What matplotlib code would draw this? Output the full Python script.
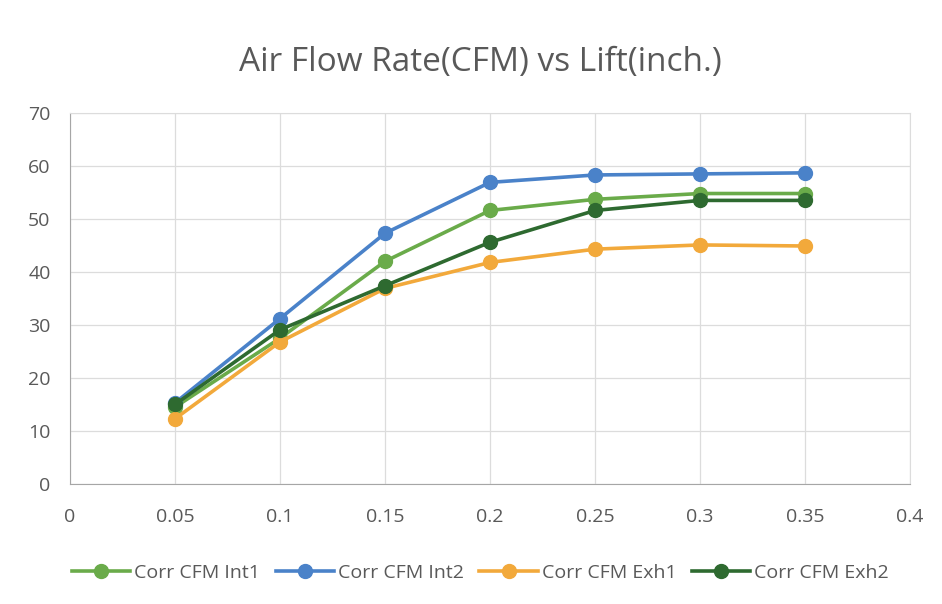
import matplotlib
matplotlib.use('Agg')
import matplotlib.pyplot as plt

plt.rcParams['font.family'] = ['Open Sans', 'DejaVu Sans']

# lift (inch.)
lift = [0.05, 0.1, 0.15, 0.2, 0.25, 0.3, 0.35]

# corrected air flow (CFM)
int1 = [14.5, 27.5, 42.0, 51.6, 53.7, 54.8, 54.8]
int2 = [15.3, 31.2, 47.3, 56.9, 58.3, 58.5, 58.7]
exh1 = [12.3, 26.8, 36.9, 41.8, 44.3, 45.1, 44.9]
exh2 = [15.0, 29.1, 37.4, 45.6, 51.6, 53.5, 53.5]

series_names = ['Corr CFM Int1', 'Corr CFM Int2', 'Corr CFM Exh1', 'Corr CFM Exh2']
colors = ['#6aab4a', '#4a82c9', '#f2a93b', '#2e6a30']

fig = plt.figure(figsize=(9.42, 6.04), dpi=100)
ax = fig.add_axes([0.0743, 0.1987, 0.8917, 0.6143])

text_col = '#595959'
for name, vals, c in zip(series_names, [int1, int2, exh1, exh2], colors):
    ax.plot(lift, vals, color=c, lw=2.6, marker='o', markersize=10, label=name)

ax.set_xlim(0, 0.4)
ax.set_ylim(0, 70)
ax.set_xticks([0, 0.05, 0.1, 0.15, 0.2, 0.25, 0.3, 0.35, 0.4])
ax.set_xticklabels(['0', '0.05', '0.1', '0.15', '0.2', '0.25', '0.3', '0.35', '0.4'])
ax.set_yticks(range(0, 71, 10))
ax.grid(True, color='#dcdcdc', lw=0.9)
ax.set_axisbelow(True)
for s in ['top', 'right']:
    ax.spines[s].set_color('#dcdcdc')
for s in ['left', 'bottom']:
    ax.spines[s].set_color('#a6a6a6')
ax.tick_params(length=0, labelsize=14, colors=text_col)
ax.tick_params(axis='x', pad=17)
ax.tick_params(axis='y', pad=14)

fig.text(0.51, 0.897, 'Air Flow Rate(CFM) vs Lift(inch.)', ha='center', va='center',
         fontsize=24, color=text_col)

fig.legend(loc='center', bbox_to_anchor=(0.51, 0.052), ncol=4, frameon=False,
           fontsize=14, labelcolor=text_col, handlelength=3.0, columnspacing=0.8,
           handletextpad=0.2)

fig.savefig('out.png', dpi=100)
